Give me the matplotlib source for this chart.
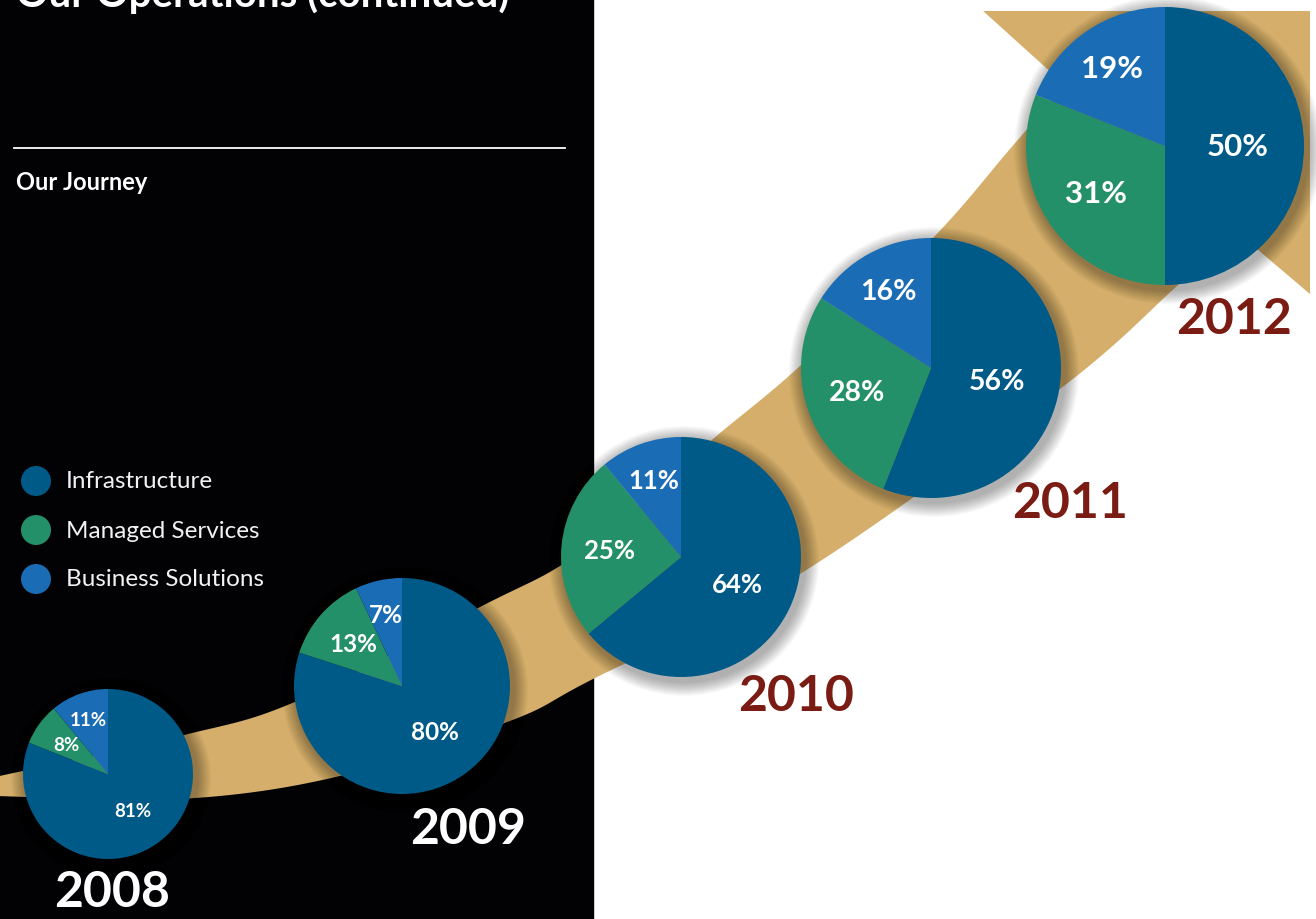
import numpy as np
import matplotlib
matplotlib.use("Agg")
import matplotlib.pyplot as plt
from matplotlib.patches import Rectangle, Circle, Polygon

plt.rcParams['font.family'] = ['Lato', 'DejaVu Sans']

# data
years = ['2008', '2009', '2010', '2011', '2012']
segments = ['Infrastructure', 'Managed Services', 'Business Solutions']
infrastructure = [81, 80, 64, 56, 50]
managed = [8, 13, 25, 28, 31]
business = [11, 7, 11, 16, 19]

colors = ['#005a87', '#23906a', '#1a6db5']
TAN = '#d4ae6a'
DARKRED = '#7a1c13'

W, H = 1316, 920
# layout, in image pixels (y down)
centers = [(108, 775), (402, 687), (681, 558), (931, 369), (1165, 147)]
radii = [85, 108, 120, 130, 139]
year_xy = [(112, 893), (468, 830), (796, 697), (1070, 503), (1234, 320)]
year_col = ['white', 'white', DARKRED, DARKRED, DARKRED]
pct_size = [13.5, 17.5, 18.5, 20.5, 22.5]
label_frac = [0.52, 0.60, 0.68]

band_top = [(-5, 778), (180, 737), (297, 702), (480, 608), (563, 565), (640, 505),
            (713, 440), (800, 367), (932, 240), (1010, 150), (1065, 86)]
band_bot = [(-5, 797), (180, 800), (340, 777), (510, 722), (593, 680), (800, 575),
            (1060, 390), (1177, 287), (1237, 233)]
arrow_head = [(940, -27), (1455, -180), (1370, 346)]


def iy(y):
    return H - y


def smooth(pts, n=24):
    p = np.array(pts, float)
    p = np.vstack([p[0], p, p[-1]])
    out = []
    t = np.linspace(0, 1, n, endpoint=False)[:, None]
    for i in range(1, len(p) - 2):
        p0, p1, p2, p3 = p[i - 1], p[i], p[i + 1], p[i + 2]
        out.append(0.5 * (2 * p1 + (-p0 + p2) * t + (2 * p0 - 5 * p1 + 4 * p2 - p3) * t ** 2
                          + (-p0 + 3 * p1 - 3 * p2 + p3) * t ** 3))
    out.append(p[-2][None])
    return np.vstack(out)


fig = plt.figure(figsize=(W / 100, H / 100), dpi=100)
ax = fig.add_axes([0, 0, 1, 1])

ax.add_patch(Rectangle((0, 0), W, H, color='white', zorder=0))
ax.add_patch(Rectangle((0, 0), 593, H, color='#020204', zorder=0.5))

# tapered band with arrow head
top = smooth(band_top)
bot = smooth(band_bot)[::-1]
outline = np.vstack([top, np.array(arrow_head, float), bot])
outline[:, 1] = H - outline[:, 1]
band = Polygon(outline, closed=True, color=TAN, lw=0, zorder=1)
ax.add_patch(band)
clip = Rectangle((0, 0), 1310, H - 12, transform=ax.transData, visible=False)
ax.add_patch(clip)
band.set_clip_path(clip)

# header
ax.text(16, iy(7), 'Our Operations (continued)', color='white', fontsize=29,
        fontweight='bold', va='baseline', ha='left', zorder=5)
ax.plot([14, 565], [iy(149), iy(149)], color='white', lw=1.3, zorder=5)
ax.text(16, iy(182), 'Our Journey', color='white', fontsize=17, fontweight='bold',
        va='center', ha='left', zorder=5)

# legend
for k, (name, c) in enumerate(zip(segments, colors)):
    y = iy(482 + 49 * k)
    ax.add_patch(Circle((36, y), 15, color=c, lw=0, zorder=5))
    ax.text(66, y, name, color='#f2f2f2', fontsize=17.5, va='center', ha='left', zorder=5)

# pies
for i, yr in enumerate(years):
    vals = [infrastructure[i], managed[i], business[i]]
    cx, cy = centers[i][0], iy(centers[i][1])
    r = radii[i]
    for k in range(14):
        ax.add_patch(Circle((cx + 3, cy - 4), r + 15 - k, color='black', alpha=0.022,
                            lw=0, zorder=2))
    ax.pie(vals, colors=colors, startangle=90, counterclock=False, center=(cx, cy),
           radius=r, wedgeprops=dict(linewidth=0, zorder=3))
    tot = float(sum(vals))
    cum = 0.0
    for j, v in enumerate(vals):
        a0 = 90 - 360 * cum / tot
        cum += v
        a1 = 90 - 360 * cum / tot
        mid = np.deg2rad((a0 + a1) / 2)
        d = label_frac[j] * r
        ax.text(cx + d * np.cos(mid), cy + d * np.sin(mid), f'{v}%', color='white',
                fontsize=pct_size[i], fontweight='bold', ha='center', va='center', zorder=6)
    ax.text(year_xy[i][0], iy(year_xy[i][1]), yr, color=year_col[i], fontsize=36,
            fontweight='bold', ha='center', va='center', zorder=6)

ax.set_xlim(0, W)
ax.set_ylim(0, H)
ax.set_aspect('equal')
ax.axis('off')
fig.savefig('out.png', dpi=100)
